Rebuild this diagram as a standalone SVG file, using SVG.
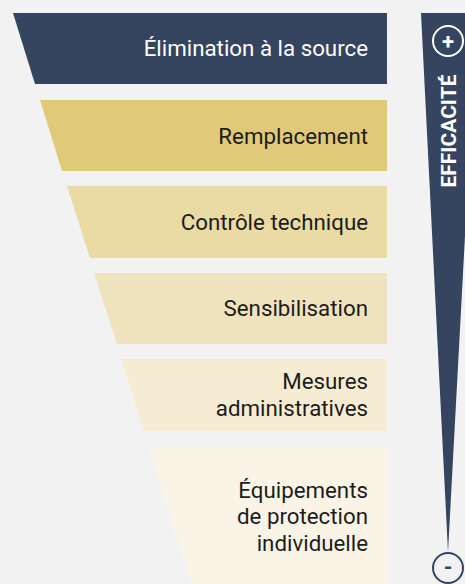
<svg xmlns="http://www.w3.org/2000/svg" width="465" height="584" viewBox="0 0 465 584">
<style>
.lbl{font-family:Roboto,"Liberation Sans",sans-serif;font-size:22.3px;fill:#1c1c1c;text-anchor:end}
.light{fill:#ffffff}
.sym{font-family:Roboto,"Liberation Sans",sans-serif;font-weight:bold;font-size:22px;text-anchor:middle}
</style>
<rect width="465" height="584" fill="#F2F2F2"/>
<g id="band1">
<polygon points="13,13 387,13 387,84 35,84" fill="#35445F"/>
<text class="lbl light" x="368" y="56">Élimination à la source</text>
</g>
<g id="band2">
<polygon points="40,100 387,100 387,171 62,171" fill="#E0CA7A"/>
<text class="lbl" x="368" y="144">Remplacement</text>
</g>
<g id="band3">
<polygon points="67,186 387,186 387,258 90,258" fill="#EADAA3"/>
<text class="lbl" x="368" y="230">Contrôle technique</text>
</g>
<g id="band4">
<polygon points="94,273 387,273 387,344 117,344" fill="#EFE3BD"/>
<text class="lbl" x="368" y="316">Sensibilisation</text>
</g>
<g id="band5">
<polygon points="121,359 387,359 387,431 144,431" fill="#F5ECD3"/>
<text class="lbl" x="368" y="389">Mesures</text>
<text class="lbl" x="368" y="416">administratives</text>
</g>
<g id="band6">
<polygon points="148,446 387,446 387,584 192,584" fill="#FAF4E7"/>
<text class="lbl" x="368" y="498">Équipements</text>
<text class="lbl" x="368" y="524">de protection</text>
<text class="lbl" x="368" y="551">individuelle</text>
</g>
<g id="efficacite">
<polygon points="421,13 477,13 448,552" fill="#35445F"/>
<text transform="translate(455.5,131) rotate(-90)" class="sym" fill="#ffffff" style="font-size:21px">EFFICACITÉ</text>
<circle cx="448" cy="41" r="15" fill="none" stroke="#ffffff" stroke-width="2"/>
<text class="sym" x="448" y="48.5" fill="#ffffff">+</text>
<circle cx="448" cy="568" r="15" fill="#F2F2F2" stroke="#35445F" stroke-width="2"/>
<text class="sym" x="448" y="575" fill="#35445F">-</text>
</g>
<g id="connectors"/>
</svg>
